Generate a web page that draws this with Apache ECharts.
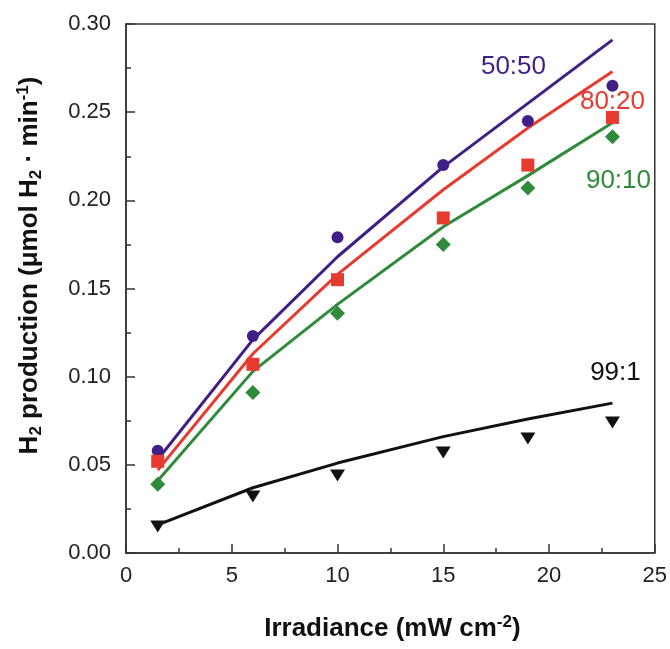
<!DOCTYPE html>
<html>
<head>
<meta charset="utf-8">
<script src="https://cdn.jsdelivr.net/npm/echarts@6/dist/echarts.min.js"></script>
<style>
html,body{margin:0;padding:0;background:#fff;}
#chart{width:670px;height:649px;}
</style>
</head>
<body>
<div id="chart"></div>
<script>
// Irradiance values (mW cm^-2)
const irradiance = [1.5, 6, 10, 15, 19, 23];
// Measured H2 production (points)
const pts5050 = [0.058, 0.123, 0.179, 0.220, 0.245, 0.265];
const pts8020 = [0.052, 0.107, 0.155, 0.190, 0.220, 0.247];
const pts9010 = [0.039, 0.091, 0.136, 0.175, 0.207, 0.236];
const pts991  = [0.015, 0.032, 0.044, 0.057, 0.065, 0.074];
// Model curves
const fit5050 = [0.053, 0.121, 0.168, 0.219, 0.255, 0.291];
const fit8020 = [0.047, 0.113, 0.158, 0.206, 0.241, 0.273];
const fit9010 = [0.041, 0.103, 0.141, 0.185, 0.214, 0.244];
const fit991  = [0.016, 0.037, 0.051, 0.066, 0.076, 0.085];
const seriesNames = ['50:50', '80:20', '90:10', '99:1'];
const xTicks = [0, 5, 10, 15, 20, 25];
const yTicks = [0.00, 0.05, 0.10, 0.15, 0.20, 0.25, 0.30];

const colors = ['#3f1f85', '#e63b2e', '#2f8a3a', '#111111'];
const labelOffsets = [[-99, 27], [0, 30], [6, 58], [3, -30]];
const symbols = ['circle', 'rect', 'diamond', 'triangle'];
const symSizes = [12, 13, [15, 15], [15, 12]];
const pointsSets = [pts5050, pts8020, pts9010, pts991];
const fitSets = [fit5050, fit8020, fit9010, fit991];

const FONT = 'Liberation Sans, Arial, sans-serif';
const pair = (xs, ys) => xs.map((x, i) => [x, ys[i]]);

const series = [];
fitSets.forEach((fit, k) => {
  const data = pair(irradiance, fit);
  const last = data[data.length - 1];
  series.push({
    name: seriesNames[k] + ' fit',
    type: 'line',
    data: data,
    showSymbol: false,
    symbol: 'none',
    lineStyle: { color: colors[k], width: 3 },
    z: 2,
    markPoint: {
      symbol: 'circle',
      symbolSize: 0,
      data: [{ coord: last, value: seriesNames[k] }],
      label: {
        show: true,
        formatter: seriesNames[k],
        position: 'inside',
        offset: labelOffsets[k],
        color: colors[k],
        fontSize: 26,
        fontFamily: FONT
      }
    }
  });
});
pointsSets.forEach((pts, k) => {
  series.push({
    name: seriesNames[k],
    type: 'scatter',
    data: pair(irradiance, pts),
    symbol: symbols[k],
    symbolSize: symSizes[k],
    symbolRotate: k === 3 ? 180 : 0,
    itemStyle: { color: colors[k], opacity: 1 },
    z: 3
  });
});

const bold = { fontSize: 26, fontWeight: 'bold', fontFamily: FONT, color: '#111', lineHeight: 30, verticalAlign: 'middle' };
const small = { fontSize: 17, fontWeight: 'bold', fontFamily: FONT, color: '#111', lineHeight: 15 };

const chart = echarts.init(document.getElementById('chart'), null, { renderer: 'canvas' });
chart.setOption({
  backgroundColor: '#ffffff',
  animation: false,
  grid: { left: 126, right: 15, top: 24, bottom: 96, show: true, borderColor: '#333', borderWidth: 1.5, backgroundColor: 'transparent' },
  xAxis: {
    type: 'value',
    min: xTicks[0], max: xTicks[xTicks.length - 1], interval: 5,
    name: '{b|Irradiance (mW cm}{sup|-2}{b|)}',
    nameLocation: 'middle',
    nameGap: 61,
    nameTextStyle: {
      padding: [0, 0, 0, 4],
      rich: {
        b: bold,
        sup: Object.assign({}, small, { verticalAlign: 'top' })
      }
    },
    axisLine: { show: true, lineStyle: { color: '#333', width: 1.5 } },
    axisTick: { show: true, inside: true, length: 9, lineStyle: { color: '#333', width: 1.5 } },
    minorTick: { show: true, splitNumber: 2, length: 5, lineStyle: { color: '#333', width: 1.5 } },
    splitLine: { show: false },
    axisLabel: { fontSize: 22, fontFamily: FONT, color: '#222', margin: 12,
      formatter: v => xTicks.includes(v) ? String(v) : '' }
  },
  yAxis: {
    type: 'value',
    min: yTicks[0], max: yTicks[yTicks.length - 1], interval: 0.05,
    name: '{b|H}{sub|2}{b| production (μmol H}{sub|2}{b| · min}{sup|-1}{b|)}',
    nameLocation: 'middle',
    nameGap: 81,
    nameRotate: 90,
    nameTextStyle: {
      padding: [0, 0, 0, 46],
      rich: {
        b: bold,
        sub: Object.assign({}, small, { verticalAlign: 'bottom' }),
        sup: Object.assign({}, small, { verticalAlign: 'top' })
      }
    },
    axisLine: { show: true, lineStyle: { color: '#333', width: 1.5 } },
    axisTick: { show: true, inside: true, length: 9, lineStyle: { color: '#333', width: 1.5 } },
    minorTick: { show: true, splitNumber: 2, length: 5, lineStyle: { color: '#333', width: 1.5 } },
    splitLine: { show: false },
    axisLabel: { fontSize: 22, fontFamily: FONT, color: '#222', margin: 15,
      formatter: v => v.toFixed(2) }
  },
  series: series
});
</script>
</body>
</html>
